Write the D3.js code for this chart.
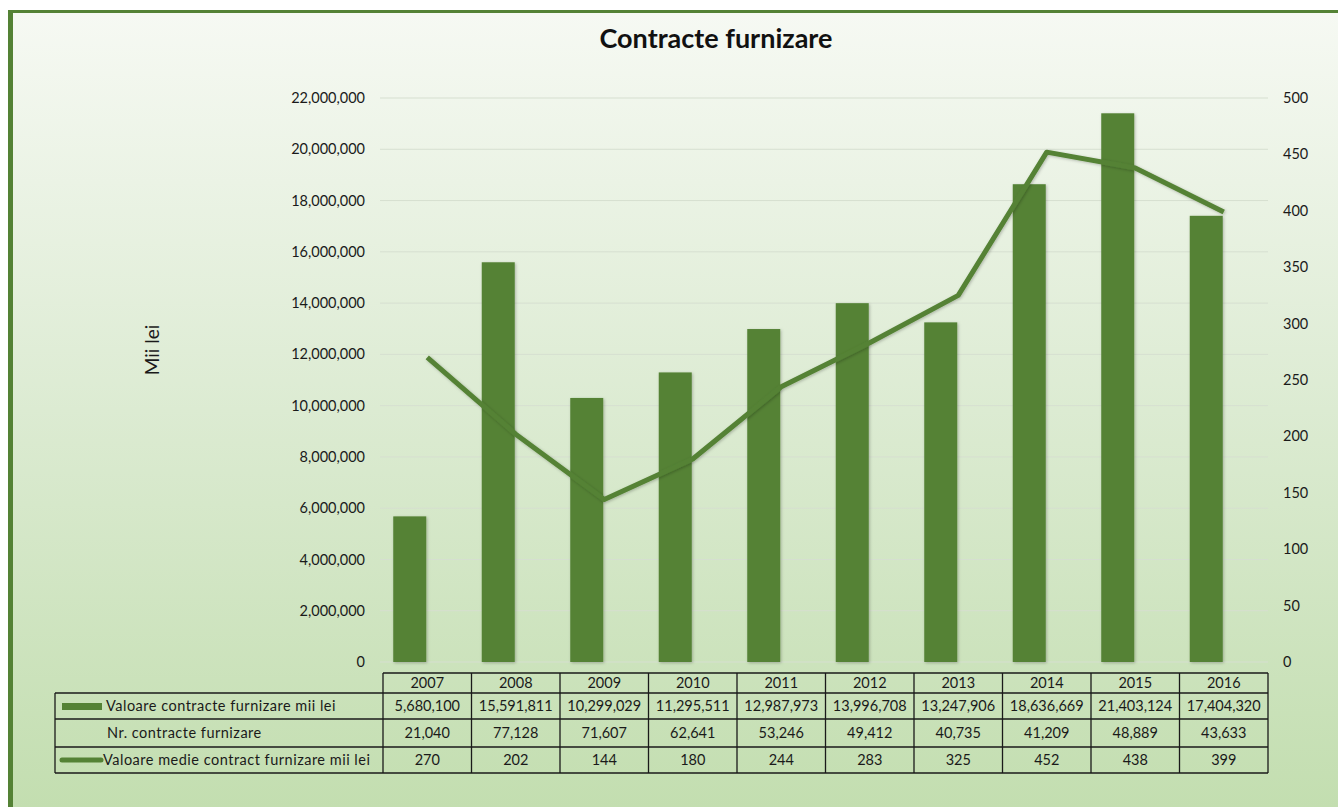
<!DOCTYPE html>
<meta charset="utf-8">
<head>
    <script type="text/javascript" src="https://cdn.jsdelivr.net/npm/d3@7"></script>
    <style>
        body { margin: 0; background: #fff; }
        text { font-family: Lato, "Open Sans", sans-serif; fill: #1a1a1a; }
    </style>
    <title>Contracte furnizare</title>
</head>
<body>
<script>
    // data
    var years = ["2007", "2008", "2009", "2010", "2011", "2012", "2013", "2014", "2015", "2016"];
    var valoare = [5680100, 15591811, 10299029, 11295511, 12987973, 13996708, 13247906, 18636669, 21403124, 17404320];
    var nrContracte = [21040, 77128, 71607, 62641, 53246, 49412, 40735, 41209, 48889, 43633];
    var medie = [270, 202, 144, 180, 244, 283, 325, 452, 438, 399];
    var leftTicks = [0, 2e6, 4e6, 6e6, 8e6, 10e6, 12e6, 14e6, 16e6, 18e6, 20e6, 22e6];
    var rightTicks = [0, 50, 100, 150, 200, 250, 300, 350, 400, 450, 500];
    var seriesNames = ["Valoare contracte furnizare mii lei", "Nr. contracte furnizare", "Valoare medie contract furnizare mii lei"];

    var width = 1338, height = 807;
    var green = "#548235";
    var fmt = d3.format(",");

    var svg = d3.select("body").append("svg")
        .attr("width", width)
        .attr("height", height);

    var defs = svg.append("defs");
    var grad = defs.append("linearGradient").attr("id", "bg")
        .attr("x1", 0).attr("y1", 0).attr("x2", 0).attr("y2", 1);
    grad.append("stop").attr("offset", "0%").attr("stop-color", "#f6f9f3");
    grad.append("stop").attr("offset", "50%").attr("stop-color", "#dcebd2");
    grad.append("stop").attr("offset", "100%").attr("stop-color", "#c3deb0");

    var shadow = defs.append("filter").attr("id", "shadow")
        .attr("x", "-20%").attr("y", "-20%").attr("width", "140%").attr("height", "140%");
    shadow.append("feDropShadow").attr("dx", 1).attr("dy", 1).attr("stdDeviation", 1.5)
        .attr("flood-color", "#000").attr("flood-opacity", 0.25);

    // frame
    svg.append("rect").attr("x", 8).attr("y", 10).attr("width", width - 8).attr("height", height - 10)
        .attr("fill", green);
    svg.append("rect").attr("x", 13).attr("y", 13).attr("width", width - 13).attr("height", height - 13)
        .attr("fill", "url(#bg)");

    // scales
    var x = d3.scaleBand().domain(years).range([383, 1268]).padding(0);
    var yL = d3.scaleLinear().domain([0, 22e6]).range([662, 98]);
    var yR = d3.scaleLinear().domain([0, 500]).range([662, 98]);

    // gridlines
    svg.append("g").selectAll("line").data(leftTicks).join("line")
        .attr("x1", 380).attr("x2", 1268)
        .attr("y1", d => yL(d)).attr("y2", d => yL(d))
        .attr("stroke", "#d6dfd0").attr("stroke-width", 1);

    // left axis labels
    svg.append("g").selectAll("text").data(leftTicks).join("text")
        .attr("x", 365).attr("y", d => yL(d))
        .attr("dy", "0.35em").attr("text-anchor", "end")
        .attr("font-size", "14.5px")
        .text(d => fmt(d));

    // right axis labels
    svg.append("g").selectAll("text").data(rightTicks).join("text")
        .attr("x", 1283).attr("y", d => yR(d))
        .attr("dy", "0.35em").attr("text-anchor", "start")
        .attr("font-size", "14.5px")
        .text(d => d);

    // bars
    var barW = 33;
    svg.append("g").attr("filter", "url(#shadow)")
        .selectAll("rect").data(valoare).join("rect")
        .attr("x", (d, i) => x(years[i]) + x.bandwidth() / 2 - barW - 1)
        .attr("width", barW)
        .attr("y", d => yL(d))
        .attr("height", d => yL(0) - yL(d))
        .attr("fill", green);

    // line
    var line = d3.line()
        .x((d, i) => x(years[i]) + x.bandwidth() / 2)
        .y(d => yR(d));
    svg.append("path").datum(medie)
        .attr("d", line)
        .attr("fill", "none")
        .attr("stroke", green)
        .attr("stroke-width", 5)
        .attr("stroke-linejoin", "round")
        .attr("filter", "url(#shadow)");

    // title
    svg.append("text").attr("x", 716).attr("y", 48)
        .attr("text-anchor", "middle")
        .attr("font-size", "27px").attr("font-weight", "bold")
        .style("fill", "#111")
        .text("Contracte furnizare");

    // y axis title
    svg.append("text")
        .attr("transform", "translate(159,350) rotate(-90)")
        .attr("text-anchor", "middle")
        .attr("font-size", "19px")
        .text("Mii lei");

    // data table
    var tbl = svg.append("g");
    var rowY = [673, 693, 719, 747, 773];
    var legendX0 = 55, tblX1 = 1268;
    var lineColor = "#1a1a1a";

    // header row (years)
    tbl.append("line").attr("x1", 383).attr("x2", tblX1).attr("y1", rowY[0]).attr("y2", rowY[0])
        .attr("stroke", lineColor).attr("stroke-width", 1.3);
    // horizontal lines of body rows
    tbl.selectAll("line.h").data(rowY.slice(1)).join("line").attr("class", "h")
        .attr("x1", legendX0).attr("x2", tblX1)
        .attr("y1", d => d).attr("y2", d => d)
        .attr("stroke", lineColor).attr("stroke-width", 1.3);
    // vertical lines
    var vx = years.map(d => x(d)).concat([tblX1]);
    tbl.selectAll("line.v").data(vx).join("line").attr("class", "v")
        .attr("x1", d => d).attr("x2", d => d)
        .attr("y1", rowY[0]).attr("y2", rowY[4])
        .attr("stroke", lineColor).attr("stroke-width", 1.3);
    tbl.append("line").attr("x1", legendX0).attr("x2", legendX0).attr("y1", rowY[1]).attr("y2", rowY[4])
        .attr("stroke", lineColor).attr("stroke-width", 1.3);

    // year labels
    tbl.selectAll("text.yr").data(years).join("text").attr("class", "yr")
        .attr("x", d => x(d) + x.bandwidth() / 2)
        .attr("y", (rowY[0] + rowY[1]) / 2).attr("dy", "0.35em")
        .attr("text-anchor", "middle").attr("font-size", "14.5px")
        .text(d => d);

    var rows = [valoare, nrContracte, medie];
    rows.forEach(function (vals, r) {
        var cy = (rowY[r + 1] + rowY[r + 2]) / 2;
        tbl.append("g").selectAll("text").data(vals).join("text")
            .attr("x", (d, i) => x(years[i]) + x.bandwidth() / 2)
            .attr("y", cy).attr("dy", "0.35em")
            .attr("text-anchor", "middle").attr("font-size", "14.5px")
            .text(d => fmt(d));
    });

    // legend labels
    var legX = [106, 107, 103];
    seriesNames.forEach(function (name, r) {
        var cy = (rowY[r + 1] + rowY[r + 2]) / 2;
        tbl.append("text").attr("x", legX[r]).attr("y", cy).attr("dy", "0.35em")
            .attr("font-size", "14.5px").attr("letter-spacing", "0.5px").text(name);
    });
    // legend swatches
    tbl.append("rect").attr("x", 62).attr("y", 703).attr("width", 40).attr("height", 7).attr("fill", green);
    tbl.append("line").attr("x1", 62).attr("x2", 101)
        .attr("y1", 760).attr("y2", 760)
        .attr("stroke", green).attr("stroke-width", 5).attr("stroke-linecap", "round");
</script>
</body>
</html>
